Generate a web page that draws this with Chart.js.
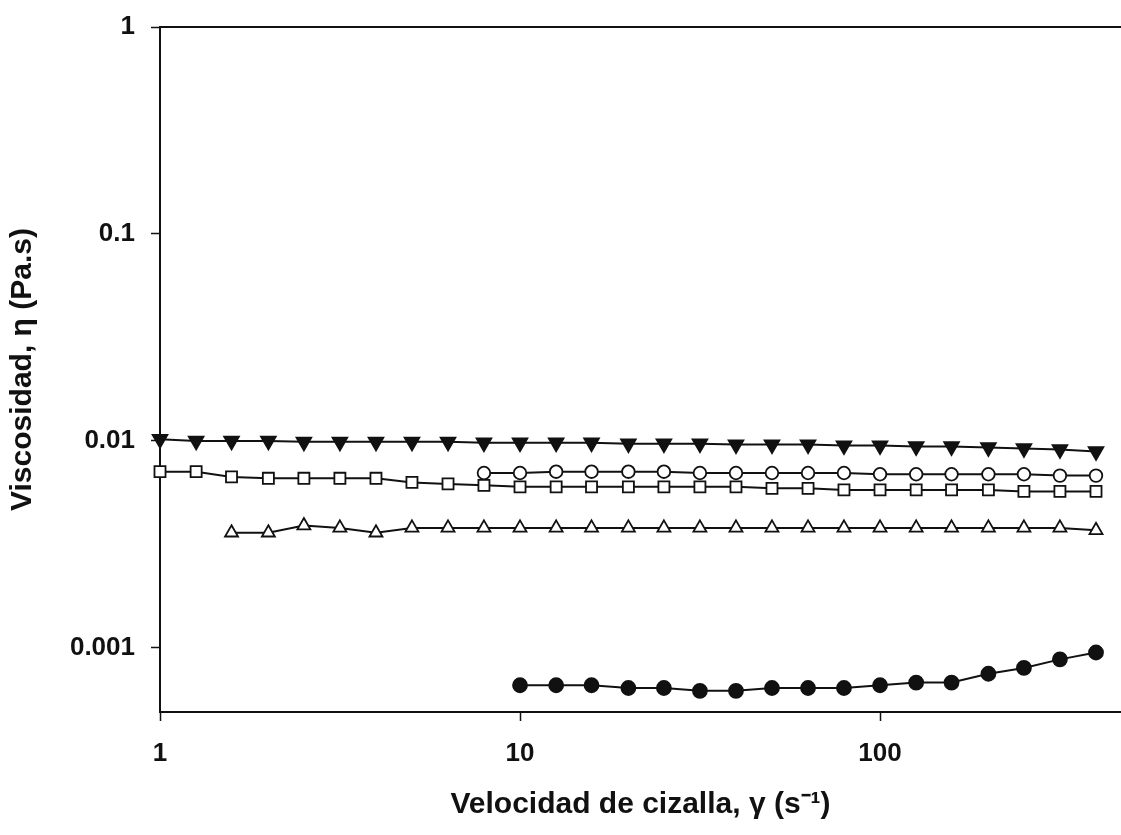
<!DOCTYPE html>
<html>
<head>
<meta charset="utf-8">
<script src="https://cdn.jsdelivr.net/npm/chart.js@4/dist/chart.umd.min.js"></script>
<style>
  html, body { margin: 0; padding: 0; background: #fff; }
  #wrap { width: 1121px; height: 835px; }
</style>
</head>
<body>
<div id="wrap"><canvas id="chart" width="1121" height="835"></canvas></div>
<script>
// shear rate, s^-1 (10 points per decade)
const shearRate = [1, 1.26, 1.58, 2, 2.51, 3.16, 3.98, 5.01, 6.31, 7.94, 10, 12.6, 15.8, 20, 25.1, 31.6, 39.8, 50.1, 63.1, 79.4, 100, 126, 158, 200, 251, 316, 398];

// viscosity, Pa.s (null = no measurement)
const filledTriangle = [0.0102, 0.0100, 0.0100, 0.0100, 0.0099, 0.0099, 0.0099, 0.0099, 0.0099, 0.0098, 0.0098, 0.0098, 0.0098, 0.0097, 0.0097, 0.0097, 0.0096, 0.0096, 0.0096, 0.0095, 0.0095, 0.0094, 0.0094, 0.0093, 0.0092, 0.0091, 0.0089];
const openCircle = [null, null, null, null, null, null, null, null, null, 0.0070, 0.0070, 0.0071, 0.0071, 0.0071, 0.0071, 0.0070, 0.0070, 0.0070, 0.0070, 0.0070, 0.0069, 0.0069, 0.0069, 0.0069, 0.0069, 0.0068, 0.0068];
const openSquare = [0.0071, 0.0071, 0.0067, 0.0066, 0.0066, 0.0066, 0.0066, 0.0063, 0.0062, 0.0061, 0.0060, 0.0060, 0.0060, 0.0060, 0.0060, 0.0060, 0.0060, 0.0059, 0.0059, 0.0058, 0.0058, 0.0058, 0.0058, 0.0058, 0.0057, 0.0057, 0.0057];
const openTriangle = [null, null, 0.0036, 0.0036, 0.0039, 0.0038, 0.0036, 0.0038, 0.0038, 0.0038, 0.0038, 0.0038, 0.0038, 0.0038, 0.0038, 0.0038, 0.0038, 0.0038, 0.0038, 0.0038, 0.0038, 0.0038, 0.0038, 0.0038, 0.0038, 0.0038, 0.0037];
const filledCircle = [null, null, null, null, null, null, null, null, null, null, 0.00066, 0.00066, 0.00066, 0.00064, 0.00064, 0.00062, 0.00062, 0.00064, 0.00064, 0.00064, 0.00066, 0.00068, 0.00068, 0.00075, 0.00080, 0.00088, 0.00095];

const xTicks = [1, 10, 100];
const yTicks = [0.001, 0.01, 0.1, 1];

const INK = "#111";
const FONT = "'Liberation Sans', Arial, sans-serif";

function pairs(ys) {
    return shearRate.map((x, i) => ({ x: x, y: ys[i] })).filter(p => p.y !== null);
}

function series(ys, style, filled, radius, rotation) {
    return {
        data: pairs(ys),
        borderColor: INK,
        borderWidth: 2,
        pointStyle: style,
        pointRadius: radius,
        pointRotation: rotation || 0,
        pointBackgroundColor: filled ? INK : "#fff",
        pointBorderColor: INK,
        pointBorderWidth: 1.8,
        clip: false
    };
}

// no extra room for edge labels: the plot box is fixed
function noEdgePadding(s) {
    s.paddingTop = 0;
    s.paddingBottom = 0;
    s.paddingLeft = 0;
    s.paddingRight = 0;
}

// top frame line (the picture has no right edge)
const topFrame = {
    id: "topFrame",
    afterDraw(chart) {
        const { ctx, chartArea } = chart;
        ctx.save();
        ctx.strokeStyle = INK;
        ctx.lineWidth = 2;
        ctx.beginPath();
        ctx.moveTo(chartArea.left - 1, chartArea.top);
        ctx.lineTo(chart.width, chartArea.top);
        ctx.stroke();
        ctx.restore();
    }
};

new Chart(document.getElementById("chart"), {
    type: "line",
    data: {
        datasets: [
            series(filledCircle, "circle", true, 7),
            series(openTriangle, "triangle", false, 7.5),
            series(openSquare, "rect", false, 7.8),
            series(openCircle, "circle", false, 6.3),
            series(filledTriangle, "triangle", true, 8.5, 180)
        ]
    },
    plugins: [topFrame],
    options: {
        responsive: false,
        animation: false,
        layout: { autoPadding: false, padding: { top: 27, right: 0, left: 0, bottom: 0 } },
        plugins: {
            legend: { display: false },
            tooltip: { enabled: false }
        },
        scales: {
            x: {
                type: "logarithmic",
                min: 1,
                max: 467,
                afterBuildTicks: s => { s.ticks = xTicks.map(v => ({ value: v })); },
                afterFit: s => { s.height = 123; noEdgePadding(s); },
                ticks: {
                    callback: v => String(v),
                    color: INK,
                    font: { family: FONT, size: 26, weight: "bold" },
                    padding: 17,
                    maxRotation: 0,
                    autoSkip: false
                },
                grid: { drawOnChartArea: false, drawTicks: true, tickLength: 9, tickColor: INK, tickWidth: 1.5 },
                border: { display: true, color: INK, width: 2 },
                title: {
                    display: true,
                    text: "Velocidad de cizalla, γ (s⁻¹)",
                    color: INK,
                    font: { family: FONT, size: 30, weight: "bold" },
                    padding: { top: 0, bottom: 12 }
                }
            },
            y: {
                type: "logarithmic",
                min: 0.00049,
                max: 1,
                afterBuildTicks: s => { s.ticks = yTicks.map(v => ({ value: v })); },
                afterFit: s => { s.width = 160; noEdgePadding(s); },
                ticks: {
                    callback: v => String(v),
                    color: INK,
                    font: { family: FONT, size: 26, weight: "bold" },
                    padding: 16,
                    autoSkip: false
                },
                grid: { drawOnChartArea: false, drawTicks: true, tickLength: 9, tickColor: INK, tickWidth: 1.5 },
                border: { display: true, color: INK, width: 2 },
                title: {
                    display: true,
                    text: "Viscosidad, η (Pa.s)",
                    color: INK,
                    font: { family: FONT, size: 30, weight: "bold" },
                    padding: { top: 5, bottom: 0 }
                }
            }
        }
    }
});
</script>
</body>
</html>
